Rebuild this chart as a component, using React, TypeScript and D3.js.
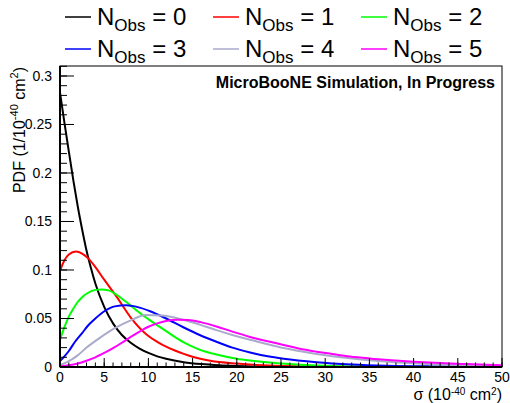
import React from "react";
import * as d3 from "d3";

// Posterior PDFs of the cross section for different observed event counts
const nObsValues = [0, 1, 2, 3, 4, 5];
const seriesColors = ["#000000", "#ff0000", "#00ff00", "#0000ff", "#aaaacc", "#ff00ff"];

const sigma0 = [0, 0.5, 1, 1.5, 2, 2.5, 3, 3.5, 4, 5, 6, 7, 8, 9, 10, 11, 12, 14, 16, 18, 20, 25, 30, 50];
const pdf0 = [0.283, 0.252, 0.222, 0.193, 0.166, 0.142, 0.12, 0.102, 0.086, 0.062, 0.045, 0.033, 0.025, 0.019, 0.0145, 0.011, 0.0085, 0.005, 0.003, 0.0018, 0.0011, 0.0003, 0.0001, 0];

const sigma1 = [0, 0.5, 1, 1.8, 2.5, 3.2, 4, 5, 6.4, 8, 10, 11, 12, 13, 14, 15, 17, 20, 25, 30, 40, 50];
const pdf1 = [0.099, 0.11, 0.116, 0.119, 0.117, 0.112, 0.103, 0.09, 0.0725, 0.051, 0.032, 0.026, 0.021, 0.017, 0.0135, 0.0105, 0.0065, 0.0035, 0.001, 0.0003, 0.00005, 0];

const sigma2 = [0, 0.5, 1, 1.5, 2, 2.5, 3, 4, 4.7, 5.5, 6.4, 7.5, 9, 10.2, 12, 13.9, 15.5, 17.7, 20, 21.5, 25, 30, 35, 40, 50];
const pdf2 = [0.028, 0.041, 0.052, 0.06, 0.067, 0.072, 0.0755, 0.0795, 0.08, 0.079, 0.0745, 0.067, 0.056, 0.048, 0.037, 0.026, 0.019, 0.0128, 0.0085, 0.0066, 0.0035, 0.0013, 0.0005, 0.0002, 0];

const sigma3 = [0, 0.5, 1, 1.7, 2.5, 3.2, 4, 5.1, 6.2, 7.5, 8.7, 10.2, 12, 13.95, 15.8, 17.7, 19.5, 21.5, 23.5, 25.3, 29, 33, 37, 42, 50];
const pdf3 = [0.006, 0.011, 0.0165, 0.026, 0.035, 0.043, 0.05, 0.058, 0.0625, 0.0636, 0.062, 0.0575, 0.05, 0.041, 0.033, 0.026, 0.02, 0.015, 0.011, 0.0085, 0.005, 0.0027, 0.0014, 0.0006, 0.0001];

const sigma4 = [0, 1, 2, 3, 4.5, 6.2, 8, 9.7, 11.5, 13.95, 15.8, 17.7, 19.5, 21.5, 23.5, 25.3, 29, 32.8, 36, 40, 45, 50];
const pdf4 = [0.002, 0.006, 0.012, 0.02, 0.03, 0.04, 0.048, 0.0536, 0.0532, 0.0487, 0.0437, 0.038, 0.033, 0.028, 0.0235, 0.0195, 0.0135, 0.009, 0.0062, 0.0038, 0.002, 0.001];

const sigma5 = [0, 1, 2, 3, 4, 5, 6, 7, 8, 9, 10, 11, 12, 13.3, 14.5, 16, 17.7, 19.5, 21.5, 23.5, 25.3, 27, 29, 30.5, 32.8, 35, 37.5, 40, 43, 46, 50];
const pdf5 = [0.0008, 0.0018, 0.0036, 0.0065, 0.01, 0.0145, 0.0195, 0.025, 0.031, 0.0365, 0.0415, 0.045, 0.0475, 0.0487, 0.0485, 0.046, 0.0418, 0.0365, 0.031, 0.0265, 0.0227, 0.019, 0.0158, 0.0138, 0.0108, 0.0088, 0.007, 0.0055, 0.004, 0.003, 0.0019];

const sigmaSets = [sigma0, sigma1, sigma2, sigma3, sigma4, sigma5];
const pdfSets = [pdf0, pdf1, pdf2, pdf3, pdf4, pdf5];

const xTicks = [0, 5, 10, 15, 20, 25, 30, 35, 40, 45, 50];
const yTicks = [0, 0.05, 0.1, 0.15, 0.2, 0.25, 0.3];
const yTickLabels = ["0", "0.05", "0.1", "0.15", "0.2", "0.25", "0.3"];

const W = 510;
const H = 403;
const frame = { left: 60, right: 502, top: 66, bottom: 367 };
const FONT = "'Liberation Sans', Arial, Helvetica, sans-serif";

export default function App() {
  const x = d3.scaleLinear().domain([0, 50]).range([frame.left, frame.right]);
  const y = d3.scaleLinear().domain([0, 0.3103]).range([frame.bottom, frame.top]);

  const line = d3
    .line<[number, number]>()
    .x((d) => x(d[0]))
    .y((d) => y(d[1]))
    .curve(d3.curveMonotoneX);

  const xMinor = d3.range(0, 50.001, 1);
  const yMinor = d3.range(0, 0.3101, 0.01);

  const legendCols = [65, 213, 361];
  const legendRows = [17, 49];

  return (
    <svg width={W} height={H} style={{ display: "block", position: "absolute", left: 0, top: 0 }} fontFamily={FONT}>
      <rect x={0} y={0} width={W} height={H} fill="#ffffff" />
      <defs>
        <clipPath id="plotArea">
          <rect x={frame.left} y={frame.top} width={frame.right - frame.left} height={frame.bottom - frame.top} />
        </clipPath>
      </defs>

      {/* frame */}
      <rect
        x={frame.left}
        y={frame.top}
        width={frame.right - frame.left}
        height={frame.bottom - frame.top}
        fill="none"
        stroke="#000"
        strokeWidth={1}
      />

      {/* curves */}
      <g clipPath="url(#plotArea)">
        {nObsValues.map((n, i) => {
          const pts = sigmaSets[i].map((s, j) => [s, pdfSets[i][j]] as [number, number]);
          return <path key={n} d={line(pts) || ""} fill="none" stroke={seriesColors[i]} strokeWidth={2} />;
        })}
      </g>

      {/* axes */}
      <line x1={frame.left} x2={frame.left} y1={frame.top} y2={frame.bottom} stroke="#000" strokeWidth={2} />
      <line x1={frame.left} x2={frame.right} y1={frame.bottom} y2={frame.bottom} stroke="#000" strokeWidth={2} />

      {yMinor.map((v, i) => (
        <line key={"ym" + i} x1={frame.left} x2={frame.left + 7} y1={y(v)} y2={y(v)} stroke="#000" strokeWidth={1} />
      ))}
      {yTicks.map((v) => (
        <line key={"yM" + v} x1={frame.left} x2={frame.left + 14} y1={y(v)} y2={y(v)} stroke="#000" strokeWidth={1} />
      ))}
      {xMinor.map((v) => (
        <line key={"xm" + v} x1={x(v)} x2={x(v)} y1={frame.bottom} y2={frame.bottom - 4.5} stroke="#000" strokeWidth={1} />
      ))}
      {xTicks.map((v) => (
        <line key={"xM" + v} x1={x(v)} x2={x(v)} y1={frame.bottom} y2={frame.bottom - 9} stroke="#000" strokeWidth={1} />
      ))}

      {/* tick labels */}
      {yTicks.map((v, i) => (
        <text key={"yl" + v} x={52} y={y(v) + 5} textAnchor="end" fontSize={14} fill="#000">
          {yTickLabels[i]}
        </text>
      ))}
      {xTicks.map((v) => (
        <text key={"xl" + v} x={x(v)} y={382} textAnchor="middle" fontSize={14} fill="#000">
          {String(v)}
        </text>
      ))}

      {/* axis titles */}
      <text x={502} y={400} textAnchor="end" fontSize={16} fill="#000">
        σ (10<tspan dy={-5} fontSize={10}>-40</tspan>
        <tspan dy={5}> cm</tspan>
        <tspan dy={-5} fontSize={10}>2</tspan>
        <tspan dy={5}>)</tspan>
      </text>
      <text transform="translate(25,67) rotate(-90)" textAnchor="end" fontSize={16} fill="#000">
        PDF (1/10<tspan dy={-7} fontSize={11}>-40</tspan>
        <tspan dy={7}> cm</tspan>
        <tspan dy={-7} fontSize={11}>2</tspan>
        <tspan dy={7}>)</tspan>
      </text>

      {/* label inside the frame */}
      <text x={495} y={88} textAnchor="end" fontSize={16} fontWeight="bold" fill="#000">
        MicroBooNE Simulation, In Progress
      </text>

      {/* legend */}
      {nObsValues.map((n, i) => {
        const cx = legendCols[i % 3];
        const cy = legendRows[Math.floor(i / 3)];
        return (
          <g key={"lg" + n}>
            <line x1={cx} x2={cx + 26} y1={cy} y2={cy} stroke={seriesColors[i]} strokeWidth={1.5} />
            <text x={cx + 32} y={cy + 8} fontSize={24} fill="#000">
              N<tspan dy={6} fontSize={17}>Obs</tspan>
              <tspan dy={-6}>{" = " + n}</tspan>
            </text>
          </g>
        );
      })}
    </svg>
  );
}
